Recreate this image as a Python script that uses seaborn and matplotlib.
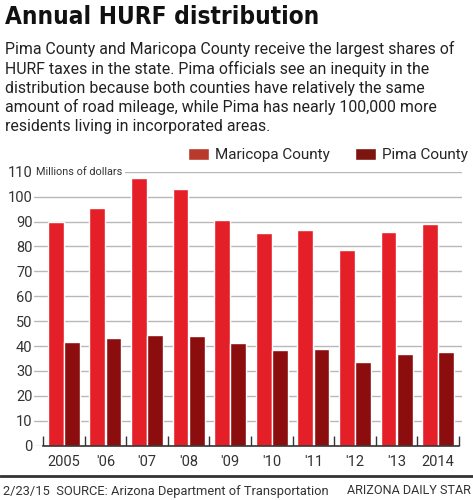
import numpy as np
import pandas as pd
import matplotlib.pyplot as plt
from matplotlib.patches import Patch
import seaborn as sns

years = ["2005", "'06", "'07", "'08", "'09", "'10", "'11", "'12", "'13", "2014"]
maricopa = [89.8, 95.6, 107.4, 103.0, 90.6, 85.3, 86.5, 78.5, 85.9, 88.9]
pima = [41.6, 43.1, 44.4, 43.9, 41.1, 38.6, 38.8, 33.6, 36.7, 37.5]
series = ["Maricopa County", "Pima County"]
yticks = [0, 10, 20, 30, 40, 50, 60, 70, 80, 90, 100, 110]

df = pd.DataFrame({
    "year": years * 2,
    "value": maricopa + pima,
    "county": [series[0]] * len(years) + [series[1]] * len(years),
})

red = "#E51F27"
dark = "#8C0D0D"

sns.set_style("white")
body = ["Roboto", "DejaVu Sans"]
plt.rcParams["font.family"] = body

fig = plt.figure(figsize=(4.73, 5), dpi=100)
W, H = 473, 500
# axes spans from 34px to 462px horizontally, baseline at 445.7px, 110 at 171.7px
ax = fig.add_axes([34 / W, 1 - 445.7 / H, (462 - 34) / W, (445.7 - 171.7) / H])

sns.barplot(data=df, x="year", y="value", hue="county", palette=[red, dark],
            width=0.78, gap=0.03, ax=ax, legend=False, saturation=1)

px = 41.6  # px per category
x0 = -0.5 - (43 - 34) / px
x1 = 9.5 + (462 - 459) / px
ax.set_xlim(x0, x1)
ax.set_ylim(0, 110)

# gridlines
ax.set_axisbelow(True)
ax.yaxis.grid(True, color="#b8b8b8", lw=1)
ax.xaxis.grid(False)

for s in ["top", "right", "left"]:
    ax.spines[s].set_visible(False)
ax.spines["bottom"].set_bounds(-0.5, 9.5)
ax.spines["bottom"].set_color("#333333")
ax.spines["bottom"].set_linewidth(1.2)

# separators between year groups
seps = np.arange(len(years) + 1) - 0.5
ax.vlines(seps, 0, 4, color="#333333", lw=1, zorder=3)

ax.set_yticks(yticks)
ax.set_yticklabels([str(v) for v in yticks], fontsize=10.5, color="#333333")
ax.tick_params(axis="y", left=False, length=0, pad=1)
ax.set_xticks(range(len(years)))
ax.set_xticklabels(years, fontsize=10.5, color="#333333")
ax.tick_params(axis="x", bottom=False, length=0, pad=7)
ax.set_xlabel("")
ax.set_ylabel("")

ax.text(-0.5 - (43 - 36) / px, 110, "Millions of dollars", fontsize=7.8, color="#333333",
        va="center", ha="left", clip_on=False,
        bbox=dict(facecolor="white", edgecolor="none", pad=2))

# legend
handles = [Patch(facecolor="#B93A2C"), Patch(facecolor="#7C1410")]
fig.legend(handles, series, loc="center right", bbox_to_anchor=(468 / W, 1 - 155 / H),
           ncol=2, frameon=False, fontsize=11, handlelength=1.4, handleheight=0.8,
           handletextpad=0.4, columnspacing=1.6, borderaxespad=0, borderpad=0)

# title and text
fig.text(5 / W, 1 - 17 / H, "Annual HURF distribution", fontsize=17.5, fontweight="bold",
         family="DejaVu Sans", fontstretch="condensed", va="center", ha="left", color="#111111")
sub = ("Pima County and Maricopa County receive the largest shares of\n"
       "HURF taxes in the state. Pima officials see an inequity in the\n"
       "distribution because both counties have relatively the same\n"
       "amount of road mileage, while Pima has nearly 100,000 more\n"
       "residents living in incorporated areas.")
fig.text(5 / W, 1 - 41 / H, sub, fontsize=11.4, va="top", ha="left", color="#222222",
         linespacing=1.3)

# footer
fig.add_artist(plt.Line2D([0, 1], [1 - 476 / H] * 2, color="#333333", lw=2))
fig.text(3 / W, 1 - 491 / H, "2/23/15  SOURCE: Arizona Department of Transportation",
         fontsize=9.3, va="center", ha="left", color="#333333")
fig.text(471 / W, 1 - 491 / H, "ARIZONA DAILY STAR", fontsize=9.1, va="center",
         ha="right", color="#333333")

fig.savefig("out.png", dpi=100)
